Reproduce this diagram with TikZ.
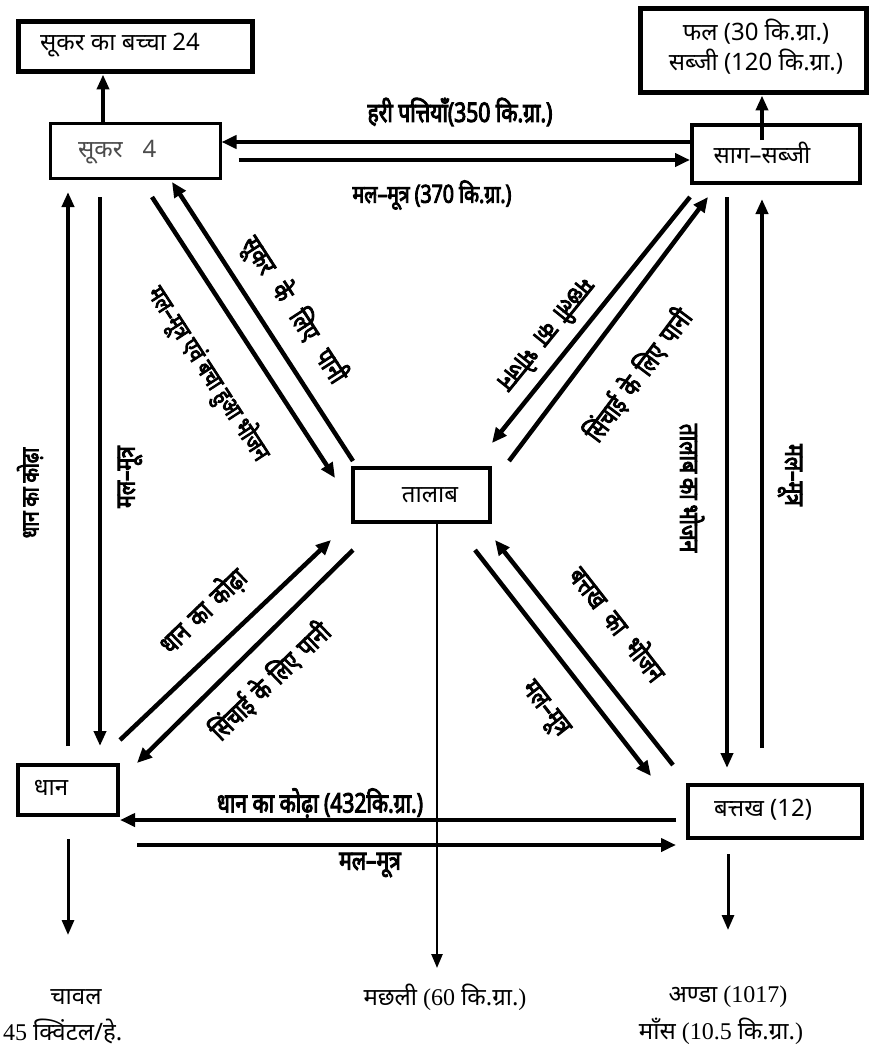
\documentclass[tikz,border=0pt]{standalone}
\usepackage{fontspec}
\setmainfont{Liberation Serif}
\newfontfamily\deva[Script=Devanagari]{Noto Sans}
\newfontfamily\devab[Script=Devanagari,FakeBold=3.5,FakeStretch=0.78]{Noto Sans}
\usetikzlibrary{arrows.meta,calc}
\newcommand\gp[1]{\hspace{#1pt}}
\begin{document}
\begin{tikzpicture}[x=1pt,y=-1pt,
  box/.style={draw,line width=4pt,inner sep=0pt},
  arr/.style={line width=4.5pt,-{Triangle[length=15pt,width=13pt]}},
  vln/.style={line width=4pt,-{Triangle[length=15pt,width=12pt]}},
  lbl/.style={font=\devab\fontsize{27}{30}\selectfont,inner sep=0pt},
  lbls/.style={font=\devab\fontsize{25}{30}\selectfont,inner sep=0pt},
  txt/.style={font=\deva\fontsize{24}{28}\selectfont,inner sep=0pt},
  btxt/.style={font=\fontsize{24}{28}\selectfont,inner sep=0pt}]
\useasboundingbox (0,0) rectangle (869,1054);
\fill[white] (0,0) rectangle (869,1054);

% boxes
\node[box,line width=5pt,minimum width=234pt,minimum height=50pt] (piglet) at (135,47) {};
\node[box,line width=3pt,minimum width=170pt,minimum height=55pt] (pig) at (135,151) {};
\node[box,line width=5pt,minimum width=226pt,minimum height=84pt] (fruit) at (753,51) {};
\node[box,minimum width=168pt,minimum height=58pt] (veg) at (776,154) {};
\node[box,minimum width=137pt,minimum height=54pt] (pond) at (421.5,495) {};
\node[box,minimum width=100pt,minimum height=50pt] (rice) at (68,790) {};
\node[box,minimum width=174pt,minimum height=53pt] (duck) at (775,811.5) {};

% box texts
\node[txt] (tpiglet) at (120,45) {सूकर का बच्चा 24};
\node[txt,text=black!70,anchor=west] (tpig) at (78,152) {सूकर\hspace{20pt}4};
\node[txt,align=center,font=\deva\fontsize{24}{30}\selectfont] (tfruit) at (756,47) {फल (30 कि.ग्रा.)\\सब्जी (120 कि.ग्रा.)};
\node[txt] (tveg) at (762,153) {साग–सब्जी};
\node[txt] (tpond) at (430,495) {तालाब};
\node[txt] (trice) at (51,788) {धान};
\node[txt] (tduck) at (763,810) {बत्तख (12)};

% bottom texts
\node[btxt] (rice1) at (76,997) {\deva चावल};
\node[btxt,anchor=west] (rice2) at (3,1031) {45 {\deva क्विंटल/हे.}};
\node[btxt] (fish) at (445,997) {{\deva मछली} (60 {\deva कि.ग्रा.})};
\node[btxt] (egg) at (728,997) {{\deva अण्डा} (1017)};
\node[btxt] (meat) at (721,1031) {{\deva माँस} (10.5 {\deva कि.ग्रा.})};

% connectors
\draw[vln] (pig.north -| 103,0) -- (piglet.south -| 103,0);
\draw[vln] ($(veg.north -| 762,0)+(0,17)$) -- (fruit.south -| 762,0);
\draw[arr] (veg.west |- 0,142) -- (pig.east |- 0,142);
\draw[arr] ($(pig.east |- 0,160)+(17,0)$) -- (veg.west |- 0,160);

\draw[arr] ($(pond.north west)+(2,-5)$) -- ($(pig.south)+(37,2)$);
\draw[arr] ($(pig.south)+(17,17)$) -- ($(pond.west)+(-16,-17)$);
\draw[arr] ($(veg.south west)+(0,12)$) -- ($(pond.north east)+(0,-23)$);
\draw[arr] ($(pond.north east)+(17,-5)$) -- ($(veg.south west)+(18,12)$);
\draw[arr] ($(rice.north east)+(0,-23)$) -- ($(pond.south west)+(-20,16)$);
\draw[arr] ($(pond.south west)+(2,26)$) -- ($(rice.north east)+(17,0)$);
\draw[arr] ($(duck.north west)+(-13,-18)$) -- ($(pond.south east)+(3,16)$);
\draw[arr] ($(pond.south east)+(-17,26)$) -- ($(duck.north west)+(-35,-7)$);

\draw[vln] ($(rice.north -| 68,0)+(0,-17)$) -- ($(pig.south -| 68,0)+(0,12)$);
\draw[vln] ($(pig.south -| 100,0)+(0,17)$) -- ($(rice.north -| 100,0)+(0,-17)$);
\draw[vln] ($(veg.south -| 727,0)+(0,12)$) -- ($(duck.north -| 727,0)+(0,-15)$);
\draw[vln] ($(duck.north -| 762,0)+(0,-35)$) -- ($(veg.south -| 762,0)+(0,14)$);

\draw[arr] ($(duck.west |- 0,820)+(-10,0)$) -- (rice.east |- 0,820);
\draw[arr] ($(rice.east |- 0,845)+(17,0)$) -- ($(duck.west |- 0,845)+(-10,0)$);

\coordinate (riceend) at (68,935);
\coordinate (duckend) at (728,930);
\coordinate (fishend) at (437,968);
\draw[vln,line width=3pt] ($(rice.south)+(0,22)$) -- (riceend);
\draw[vln,line width=3pt] ($(duck.south -| 728,0)+(0,14)$) -- (duckend);
\draw[line width=2.5pt,-{Triangle[length=14pt,width=11pt]}] (pond.south -| 437,0) -- (fishend);

% labels
\node[lbl] (l1) at (460,112) {हरी पत्तियाँ(350 कि.ग्रा.)};
\node[lbls] (l2) at (432,195) {मल–मूत्र (370 कि.ग्रा.)};
\node[lbl,rotate=-57] (l3) at (294,310) {सूकर\gp{16}के\gp{16}लिए\gp{16}पानी};
\node[lbls,rotate=-57] (l4) at (208,374) {मल–मूत्र एवं बचा हुआ भोजन};
\node[lbl,rotate=-129] (l5) at (548,336) {मछली\gp{10}का\gp{10}भोजन};
\node[lbl,rotate=53] (l6) at (638,375) {सिंचाई\gp{9}के\gp{9}लिए\gp{9}पानी};
\node[lbl,font=\devab\fontsize{24}{28}\selectfont,rotate=90] (l7) at (30,493) {धान का कोढ़ा};
\node[lbl,rotate=90] (l8) at (130,477) {मल–मूत्र};
\node[lbl,rotate=-90] (l9) at (692,488) {तालाब\gp{5}का\gp{5}भोजन};
\node[lbl,rotate=-90] (l10) at (790,475) {मल–मूत्र};
\node[lbl,rotate=44] (l11) at (203,611) {धान\gp{9}का\gp{9}कोढ़ा};
\node[lbl,rotate=44] (l12) at (270,681) {सिंचाई\gp{8}के\gp{8}लिए\gp{8}पानी};
\node[lbl,rotate=-52] (l13) at (619,623) {बत्तख\gp{12}का\gp{12}भोजन};
\node[lbl,rotate=-52] (l14) at (544,710) {मल–मूत्र};
\node[lbl] (l15) at (320,803) {धान का कोढ़ा (432कि.ग्रा.)};
\node[lbl] (l16) at (370,865) {मल–मूत्र};
\end{tikzpicture}
\end{document}
